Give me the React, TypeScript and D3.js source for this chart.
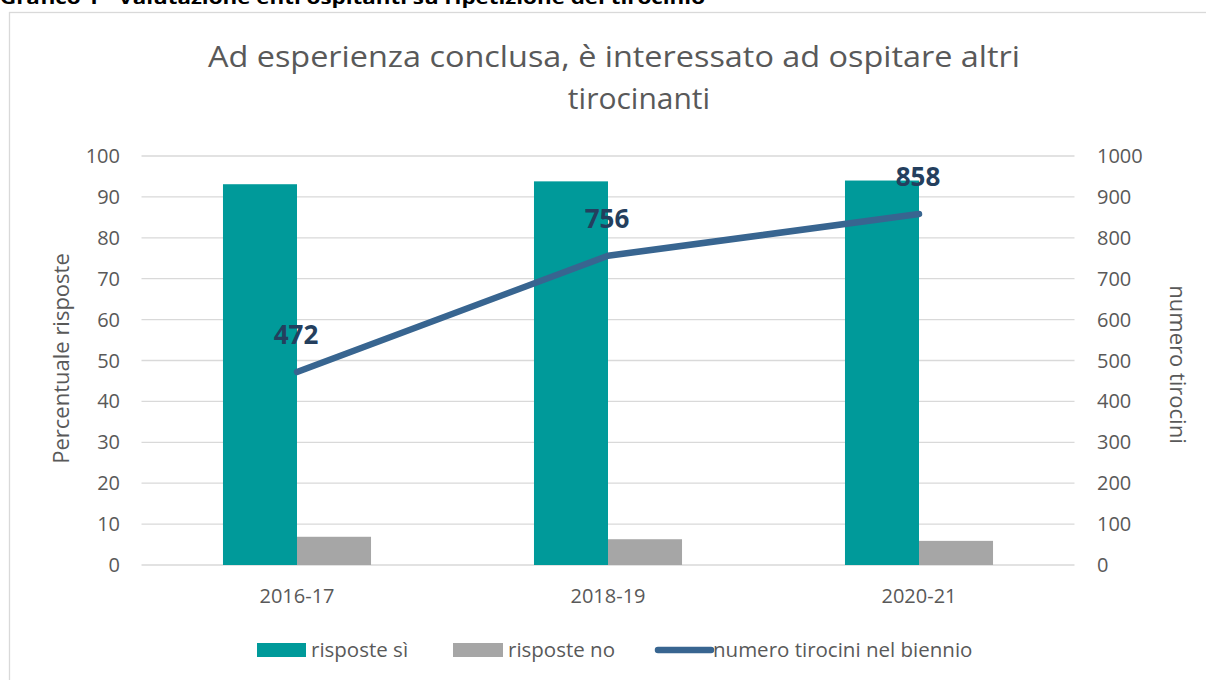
import React from "react";
import * as d3 from "d3";

const categories = ["2016-17", "2018-19", "2020-21"];
const risposteSi = [93.1, 93.8, 94.0];
const risposteNo = [6.9, 6.3, 5.9];
const numeroTirocini = [472, 756, 858];
const leftTicks = [0, 10, 20, 30, 40, 50, 60, 70, 80, 90, 100];
const rightTicks = [0, 100, 200, 300, 400, 500, 600, 700, 800, 900, 1000];

const W = 1206;
const H = 680;
const plot = { left: 141.5, right: 1074.5, top: 156, bottom: 565 };
const FONT = "'Open Sans', 'Noto Sans', sans-serif";
const TEAL = "#009a9a";
const GREY = "#a6a6a6";
const BLUE = "#386590";

const App = () => {
	const x = d3
		.scaleBand()
		.domain(categories)
		.range([plot.left, plot.right])
		.paddingInner(0.524)
		.paddingOuter(0.262);
	const xInner = d3
		.scaleBand()
		.domain(["si", "no"])
		.range([0, x.bandwidth()]);
	const yLeft = d3.scaleLinear().domain([0, 100]).range([plot.bottom, plot.top]);
	const yRight = d3.scaleLinear().domain([0, 1000]).range([plot.bottom, plot.top]);

	const cx = (c) => x(c) + x.bandwidth() / 2;

	const line = d3
		.line()
		.x((d, i) => cx(categories[i]))
		.y((d) => yRight(d));

	const midY = (plot.top + plot.bottom) / 2;

	return (
		<svg
			width={W}
			height={H}
			style={{ position: "absolute", left: 0, top: 0, background: "#fff" }}
			fontFamily={FONT}
		>
			{/* caption above the frame, cut by the crop like in the source */}
			<text
				x={0}
				y={4}
				fontSize={17}
				fontWeight="bold"
				fill="#000"
				textLength={705}
				lengthAdjust="spacingAndGlyphs"
			>
				Grafico 1 - Valutazione enti ospitanti su ripetizione del tirocinio
			</text>
			<rect x={9.5} y={12.5} width={1220} height={700} fill="#fff" stroke="#d9d9d9" strokeWidth={1.3} />

			{/* title */}
			<text x={614} y={67} fontSize={30} fill="#595959" textAnchor="middle" textLength={812} lengthAdjust="spacingAndGlyphs">
				Ad esperienza conclusa, è interessato ad ospitare altri
			</text>
			<text x={639} y={109} fontSize={30} fill="#595959" textAnchor="middle">
				tirocinanti
			</text>

			{/* gridlines */}
			{leftTicks.map((t) => (
				<line
					key={"g" + t}
					x1={plot.left}
					x2={plot.right}
					y1={yLeft(t)}
					y2={yLeft(t)}
					stroke="#d9d9d9"
					strokeWidth={1.3}
				/>
			))}

			{/* left axis */}
			{leftTicks.map((t) => (
				<text key={"l" + t} x={120} y={yLeft(t)} dy="0.35em" fontSize={20} fill="#595959" textAnchor="end">
					{t}
				</text>
			))}
			<text
				transform={`translate(${69}, ${midY - 2}) rotate(-90)`}
				fontSize={22}
				fill="#595959"
				textAnchor="middle"
			>
				Percentuale risposte
			</text>

			{/* right axis */}
			{rightTicks.map((t) => (
				<text key={"r" + t} x={1097} y={yRight(t)} dy="0.35em" fontSize={20} fill="#595959" textAnchor="start">
					{t}
				</text>
			))}
			<text
				transform={`translate(${1170}, ${midY + 4}) rotate(90)`}
				fontSize={22}
				fill="#595959"
				textAnchor="middle"
			>
				numero tirocini
			</text>

			{/* bars */}
			{categories.map((c, i) => (
				<g key={c} transform={`translate(${x(c)},0)`}>
					<rect
						x={xInner("si")}
						y={yLeft(risposteSi[i])}
						width={xInner.bandwidth()}
						height={yLeft(0) - yLeft(risposteSi[i])}
						fill={TEAL}
					/>
					<rect
						x={xInner("no")}
						y={yLeft(risposteNo[i])}
						width={xInner.bandwidth()}
						height={yLeft(0) - yLeft(risposteNo[i])}
						fill={GREY}
					/>
				</g>
			))}

			{/* x labels */}
			{categories.map((c) => (
				<text key={"x" + c} x={cx(c)} y={603} fontSize={20} fill="#595959" textAnchor="middle">
					{c}
				</text>
			))}

			{/* line */}
			<path
				d={line(numeroTirocini)}
				fill="none"
				stroke={BLUE}
				strokeWidth={6.5}
				strokeLinecap="round"
				strokeLinejoin="round"
			/>
			{numeroTirocini.map((v, i) => (
				<text
					key={"v" + i}
					x={cx(categories[i]) - 1}
					y={yRight(v) - 28}
					fontSize={26}
					fontWeight="bold"
					fill="#243f5e"
					textAnchor="middle"
				>
					{v}
				</text>
			))}

			{/* legend */}
			<rect x={257} y={643} width={49} height={14} fill={TEAL} />
			<text x={311} y={650} dy="0.35em" fontSize={20.5} fill="#595959">
				risposte sì
			</text>
			<rect x={453} y={643} width={50} height={14} fill={GREY} />
			<text x={508} y={650} dy="0.35em" fontSize={20.5} fill="#595959">
				risposte no
			</text>
			<line x1={658} x2={711} y1={650} y2={650} stroke={BLUE} strokeWidth={6.5} strokeLinecap="round" />
			<text x={713} y={650} dy="0.35em" fontSize={20.5} fill="#595959">
				numero tirocini nel biennio
			</text>
		</svg>
	);
};

export default App;
